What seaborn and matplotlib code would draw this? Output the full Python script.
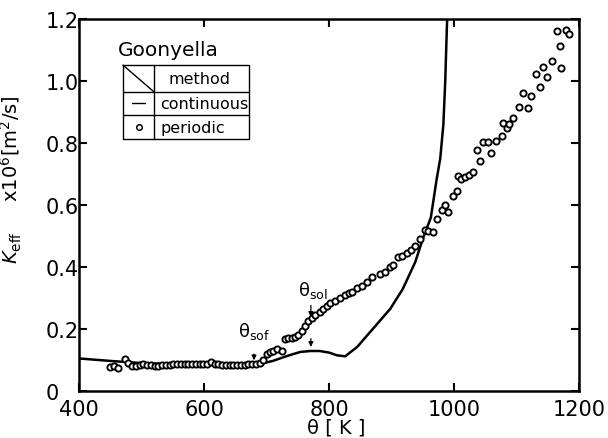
import numpy as np
import pandas as pd
import matplotlib
matplotlib.use("Agg")
import matplotlib.pyplot as plt
import seaborn as sns

# ---- data ----
periodic_T = [450, 456, 462, 474, 479, 485, 491, 497, 503, 509, 515, 521, 527, 533, 539,
              545, 551, 557, 563, 569, 575, 581, 587, 593, 599, 605, 611, 617, 623, 629,
              635, 641, 647, 653, 659, 665, 671, 677, 683, 689,
              694, 700, 706, 711, 717, 725, 730, 735, 740, 746, 750, 757, 762, 766, 773,
              778, 786, 790, 797, 802, 810, 818, 826, 832, 837, 845, 853, 861, 869, 882,
              890, 898, 902, 910, 917, 925, 931, 938, 946, 954, 958, 966, 973, 981, 986,
              990, 998, 1005, 1006, 1011, 1018, 1024, 1030, 1037, 1042, 1046, 1054, 1059,
              1067, 1077, 1078, 1085, 1088, 1094, 1104, 1110, 1118, 1123, 1131, 1138, 1142,
              1149, 1157, 1165, 1170, 1171, 1179, 1184]
periodic_K = [0.077, 0.081, 0.074, 0.103, 0.090, 0.082, 0.080, 0.084, 0.086, 0.083, 0.083,
              0.082, 0.082, 0.083, 0.084, 0.085, 0.087, 0.087, 0.088, 0.087, 0.088, 0.086,
              0.087, 0.086, 0.087, 0.088, 0.092, 0.087, 0.086, 0.085, 0.085, 0.084, 0.083,
              0.084, 0.084, 0.085, 0.086, 0.087, 0.088, 0.090,
              0.100, 0.120, 0.125, 0.130, 0.135, 0.130, 0.168, 0.170, 0.170, 0.174, 0.180,
              0.194, 0.210, 0.226, 0.235, 0.245, 0.255, 0.265, 0.275, 0.284, 0.290, 0.300,
              0.310, 0.316, 0.319, 0.332, 0.339, 0.352, 0.368, 0.377, 0.384, 0.400, 0.406,
              0.432, 0.435, 0.445, 0.455, 0.468, 0.490, 0.520, 0.516, 0.513, 0.555, 0.584,
              0.600, 0.577, 0.629, 0.645, 0.694, 0.684, 0.690, 0.697, 0.706, 0.777, 0.742,
              0.803, 0.803, 0.768, 0.806, 0.823, 0.866, 0.850, 0.862, 0.880, 0.916, 0.960,
              0.912, 0.952, 1.022, 0.981, 1.044, 1.012, 1.063, 1.161, 1.112, 1.043, 1.165,
              1.152]

continuous_T = [400, 450, 500, 550, 600, 650, 690, 710, 733, 754, 770, 785, 800, 813, 826,
                845, 870, 898, 918, 938, 950, 963, 972, 978, 983, 986, 989]
continuous_K = [0.105, 0.097, 0.090, 0.087, 0.086, 0.085, 0.087, 0.097, 0.113, 0.126, 0.129,
                0.129, 0.124, 0.115, 0.112, 0.142, 0.200, 0.265, 0.329, 0.416, 0.490, 0.560,
                0.680, 0.750, 0.860, 1.000, 1.200]

x_ticks = [400, 600, 800, 1000, 1200]
y_ticks = [0, 0.2, 0.4, 0.6, 0.8, 1.0, 1.2]
y_ticklabels = ["0", "0.2", "0.4", "0.6", "0.8", "1.0", "1.2"]

sns.set_theme(style="ticks")
plt.rcParams['font.family'] = ['DejaVu Sans']
plt.rcParams['text.color'] = 'black'
plt.rcParams['axes.labelcolor'] = 'black'

fig = plt.figure(figsize=(6.08, 4.39), dpi=100)
ax = fig.add_axes([79/608, 47/439, 500/608, 372/439])

df_p = pd.DataFrame({"T": periodic_T, "K": periodic_K})
df_c = pd.DataFrame({"T": continuous_T, "K": continuous_K})

sns.lineplot(data=df_c, x="T", y="K", ax=ax, color="black", lw=1.8, sort=False)
sns.scatterplot(data=df_p, x="T", y="K", ax=ax, marker="o", s=20,
                facecolor="white", edgecolor="black", linewidth=1.35, zorder=3)

ax.set_xlim(400, 1200)
ax.set_ylim(0, 1.2)
ax.set_xticks(x_ticks)
ax.set_xticklabels([str(t) for t in x_ticks])
ax.set_yticks(y_ticks)
ax.set_yticklabels(y_ticklabels)
ax.tick_params(direction="in", length=6, width=1.5, top=True, right=True,
               labelsize=15, colors="black")
ax.tick_params(axis="x", pad=6)
ax.tick_params(axis="y", pad=24)
for lbl in ax.get_yticklabels():
    lbl.set_horizontalalignment("left")
for sp in ax.spines.values():
    sp.set_visible(True)
    sp.set_linewidth(1.8)
    sp.set_color("black")

ax.set_xlabel("θ [ K ]", fontsize=14)
ax.xaxis.set_label_coords(0.514, -0.072)
ax.set_ylabel(r"$K_{\rm eff}$     x10$^6$[m$^2$/s]", fontsize=14)
ax.yaxis.set_label_coords(-0.11, 0.57)

# annotations
arrow_kw = dict(arrowstyle="-|>", color="black", lw=0.9, mutation_scale=7)
ax.annotate("", xy=(680, 0.09), xytext=(680, 0.128), arrowprops=arrow_kw)
ax.text(680, 0.16, r"$\mathrm{θ_{sof}}$", ha="center", va="bottom", fontsize=13)
ax.annotate("", xy=(771, 0.23), xytext=(771, 0.285), arrowprops=arrow_kw)
ax.annotate("", xy=(771, 0.133), xytext=(771, 0.178), arrowprops=arrow_kw)
ax.text(775, 0.295, r"$\mathrm{θ_{sol}}$", ha="center", va="bottom", fontsize=13)

# legend table
tr = ax.transAxes
ax.text(0.078, 0.919, "Goonyella", transform=tr, fontsize=14.5, ha="left", va="center")
L, R, T, B = 0.088, 0.34, 0.876, 0.677
C = 0.15
r1, r2 = 0.804, 0.742
kw = dict(transform=tr, color="black", lw=1.0, clip_on=False)
ax.plot([L, R, R, L, L], [T, T, B, B, T], **kw)
ax.plot([C, C], [T, B], **kw)
ax.plot([L, R], [r1, r1], **kw)
ax.plot([L, R], [r2, r2], **kw)
ax.plot([L, C], [T, r1], **kw)
ax.text(C + 0.03, (T + r1) / 2, "method", transform=tr, fontsize=11.5, va="center")
ax.text(C + 0.012, (r1 + r2) / 2, "continuous", transform=tr, fontsize=11.5, va="center")
ax.text(C + 0.012, (r2 + B) / 2, "periodic", transform=tr, fontsize=11.5, va="center")
ax.plot([0.106, 0.132], [(r1 + r2) / 2] * 2, **kw)
ax.plot([0.119], [(r2 + B) / 2], marker="o", ms=4, mfc="white", mec="black", mew=1.1,
        transform=tr, clip_on=False)

fig.savefig("out.png", dpi=100)
